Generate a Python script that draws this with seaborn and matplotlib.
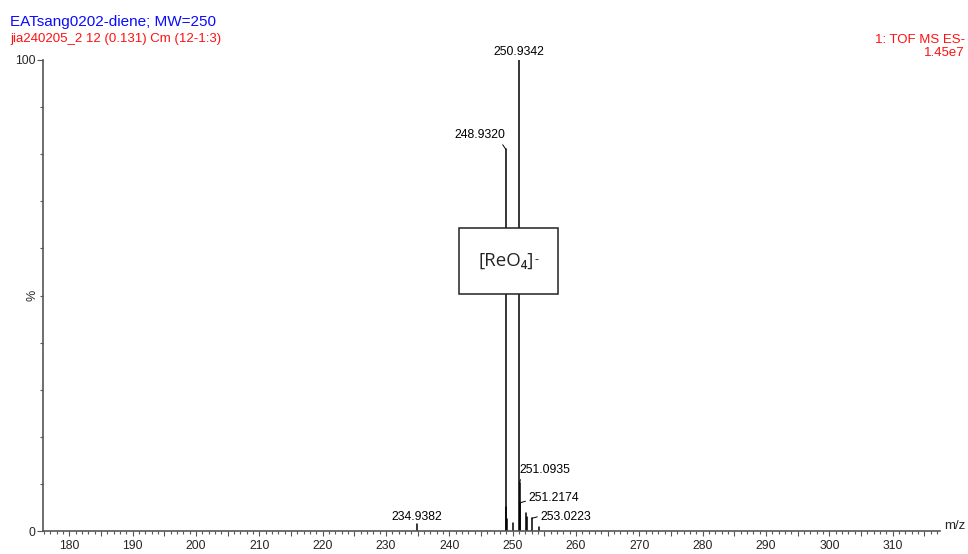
import matplotlib
matplotlib.use("Agg")
import matplotlib.pyplot as plt
import numpy as np
import pandas as pd
import seaborn as sns
from matplotlib.ticker import MultipleLocator, FixedLocator, FuncFormatter
from matplotlib.patches import Rectangle

# Centroided TOF MS ES- spectrum (relative intensity, %)
peak_mz = [234.9382, 248.9320, 249.02, 249.10, 250.09, 250.9342,
           251.0935, 251.2174, 252.04, 252.20, 253.0223, 254.15]
peak_rel = [1.5, 81.0, 5.0, 2.5, 1.6, 100.0,
            10.2, 6.0, 3.9, 3.0, 2.7, 0.9]

# Peaks that carry an m/z annotation
labelled_mz = [234.9382, 248.9320, 250.9342, 251.0935, 251.2174, 253.0223]

title_sample = "EATsang0202-diene; MW=250"
title_scan = "jia240205_2 12 (0.131) Cm (12-1:3)"
title_func = "1: TOF MS ES-"
title_bpi = "1.45e7"
ion_label = "[ReO\u2084]"
ion_charge = "-"

x_range = (175.9, 317.5)
y_range = (0, 100)

sns.set_style("ticks")
plt.rcParams["font.family"] = ["Liberation Sans", "DejaVu Sans"]

W, H = 968, 554
fig = plt.figure(figsize=(W / 100, H / 100), dpi=100)
ax = fig.add_axes([43.3 / W, 23 / H, 897 / W, 471 / H])

# one stick per peak: a two-point line from the baseline to the intensity
sticks = pd.DataFrame({
    "peak": np.repeat(np.arange(len(peak_mz)), 2),
    "mz": np.repeat(peak_mz, 2),
    "rel": np.ravel([[0.0, r] for r in peak_rel]),
})
sns.lineplot(data=sticks, x="mz", y="rel", units="peak", estimator=None,
             sort=False, color="black", lw=1.1, ax=ax, legend=False)

ax.set_xlim(*x_range)
ax.set_ylim(*y_range)
ax.set_xlabel("")
ax.set_ylabel("")
sns.despine(ax=ax)
for side in ("left", "bottom"):
    ax.spines[side].set_color("#555555")
    ax.spines[side].set_linewidth(1.2)
ax.spines["left"].set_bounds(0, 100)

tick_font = 8.8

# x: ticks every 1, longer every 5, labels every 10
ax.xaxis.set_major_locator(MultipleLocator(5))
ax.xaxis.set_minor_locator(MultipleLocator(1))
ax.xaxis.set_major_formatter(FuncFormatter(
    lambda v, _: f"{v:.0f}" if round(v) % 10 == 0 else ""))
ax.tick_params(axis="x", which="major", length=3.4, width=0.8,
               color="#555555", labelsize=tick_font, pad=3.2)
ax.tick_params(axis="x", which="minor", length=1.8, width=0.8,
               color="#555555")

# y: only 0 and 100 labelled
ax.yaxis.set_major_locator(FixedLocator([0, 100]))
ax.yaxis.set_minor_locator(MultipleLocator(10))
ax.tick_params(axis="y", which="major", length=4.5, width=0.8,
               color="#555555", labelsize=tick_font, pad=1)
ax.tick_params(axis="y", which="minor", length=2.2, width=0.8,
               color="#555555")
ax.set_yticklabels(["0", "100"])

# peak annotations: (text offset in points, alignment, leader start on text)
label_style = {
    234.9382: dict(off=(0, 1.0), ha="center", va="bottom", lead=None),
    250.9342: dict(off=(0, 1.5), ha="center", va="bottom", lead=None),
    248.9320: dict(off=(-0.3, 10.1), ha="right", va="center", lead=(0.9, 0.0)),
    251.0935: dict(off=(0.2, 9.1), ha="left", va="center", lead=(0.03, 0.1)),
    251.2174: dict(off=(6.0, 3.6), ha="left", va="center", lead=(0.0, 0.3)),
    253.0223: dict(off=(6.3, 0.8), ha="left", va="center", lead=(0.0, 0.6)),
}
for m in labelled_mz:
    h = peak_rel[peak_mz.index(m)]
    st = label_style[m]
    kw = dict(xy=(m, h), xytext=st["off"], textcoords="offset points",
              ha=st["ha"], va=st["va"], fontsize=tick_font, color="black",
              annotation_clip=False)
    if st["lead"] is not None:
        kw["arrowprops"] = dict(arrowstyle="-", lw=0.7, color="black",
                                shrinkA=0, shrinkB=0, relpos=st["lead"])
    ax.annotate(f"{m:.4f}", **kw)

# boxed ion assignment over the isotope cluster
bx, by, bw, bh = 0.4634, 0.5032, 0.1104, 0.1401
box = Rectangle((bx, by), bw, bh, transform=ax.transAxes,
                facecolor="white", edgecolor="#222222", lw=1.1, zorder=5)
ax.add_patch(box)
ion = ax.text(bx + bw / 2 - 0.003, by + bh / 2, ion_label,
              transform=ax.transAxes, ha="center", va="center", fontsize=13.5,
              family=["Open Sans", "DejaVu Sans"], zorder=6)
ax.annotate(ion_charge, xy=(1.0, 0.95), xycoords=ion, xytext=(0.6, 0),
            textcoords="offset points", ha="left", va="top", fontsize=9,
            family=["Open Sans", "DejaVu Sans"], zorder=6)

# axis captions
fig.text(33 / W, 1 - 295 / H, "%", rotation=90, ha="center", va="center",
         fontsize=9)
fig.text(944 / W, 1 - 526 / H, "m/z", ha="left", va="center", fontsize=9.5)

# header lines
fig.text(10 / W, 1 - 26 / H, title_sample, color="#0a0aff", fontsize=11,
         ha="left", va="baseline")
fig.text(10 / W, 1 - 42.3 / H, title_scan, color="#ff1010", fontsize=9.5,
         ha="left", va="baseline")
fig.text(965 / W, 1 - 43 / H, title_func, color="#ff1010", fontsize=9.5,
         ha="right", va="baseline")
fig.text(965 / W, 1 - 56.5 / H, title_bpi, color="#ff1010", fontsize=9.5,
         ha="right", va="baseline")

fig.savefig("out.png", dpi=100)
